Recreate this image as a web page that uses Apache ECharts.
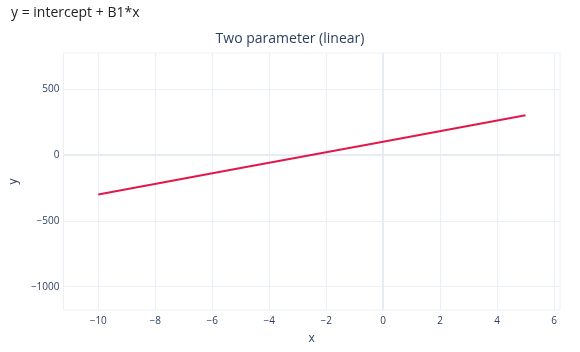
<!DOCTYPE html>
<html>
<head>
<meta charset="utf-8">
<script src="https://cdn.jsdelivr.net/npm/echarts@6/dist/echarts.min.js"></script>
<style>
html,body{margin:0;padding:0;background:#fff;}
#chart{width:580px;height:352px;}
</style>
</head>
<body>
<div id="chart"></div>
<script>
// Data (y = intercept + B1*x)
const xValues = [-10, -5, 0, 5];
const yValues = [-300, -100, 100, 300];
const xTicks = [-10, -8, -6, -4, -2, 0, 2, 4, 6];
const yTicks = [-1000, -500, 0, 500];
const pageLabel = 'y = intercept + B1*x';
const chartTitle = 'Two parameter (linear)';

const fontFam = '"Open Sans", "Noto Sans", sans-serif';
const tickColor = '#2a3f5f';
const gridColor = '#EBF0F8';

const chart = echarts.init(document.getElementById('chart'));
chart.setOption({
  animation: false,
  backgroundColor: '#fff',
  title: [
    { text: pageLabel, left: 6, top: 1, textStyle: { fontFamily: fontFam, fontSize: 14, fontWeight: 'normal', color: '#222' } },
    { text: chartTitle, left: 'center', top: 27, textStyle: { fontFamily: fontFam, fontSize: 14, fontWeight: 'normal', color: tickColor } }
  ],
  grid: { left: 60, right: 20, top: 53, bottom: 42, show: true, borderColor: gridColor, borderWidth: 1 },
  xAxis: {
    type: 'value', min: -11.22, max: 6.21,
    name: 'x', nameLocation: 'middle', nameGap: 23,
    nameTextStyle: { fontFamily: fontFam, fontSize: 12, color: tickColor },
    axisLine: { show: false },
    axisTick: { show: false, customValues: xTicks },
    axisLabel: { customValues: xTicks, fontFamily: fontFam, fontSize: 10, color: tickColor, margin: 6,
      formatter: v => (v < 0 ? '\u2212' + Math.abs(v) : String(v)) },
    splitLine: { show: true, lineStyle: { color: gridColor, width: 1 } }
  },
  yAxis: {
    type: 'value', min: -1177, max: 773,
    name: 'y', nameLocation: 'middle', nameGap: 38,
    nameTextStyle: { fontFamily: fontFam, fontSize: 12, color: tickColor },
    axisLine: { show: false },
    axisTick: { show: false, customValues: yTicks },
    axisLabel: { customValues: yTicks, fontFamily: fontFam, fontSize: 10, color: tickColor, margin: 4,
      formatter: v => (v < 0 ? '\u2212' + Math.abs(v) : String(v)) },
    splitLine: { show: true, lineStyle: { color: gridColor, width: 1 } }
  },
  series: [
    {
      type: 'line', data: [], z: 1, silent: true,
      markLine: {
        z: 1, silent: true, symbol: 'none', label: { show: false },
        emphasis: { disabled: true },
        lineStyle: { color: '#E6ECF5', width: 2, type: 'solid' },
        data: [{ xAxis: 0 }, { yAxis: 0 }]
      }
    },
    {
      type: 'line', z: 5,
      data: xValues.map((x, i) => [x, yValues[i]]),
      showSymbol: false,
      lineStyle: { color: '#E2184A', width: 2 }
    }
  ]
});
</script>
</body>
</html>
